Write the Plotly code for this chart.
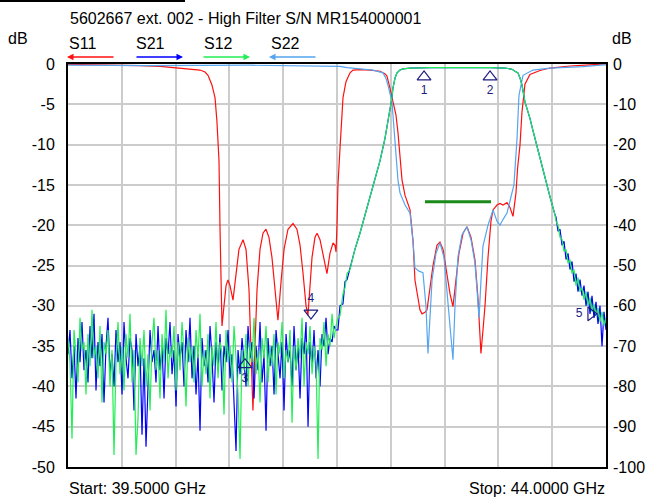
import numpy as np
import plotly.graph_objects as go

# ---------------- data ----------------
title_text = "5602667 ext. 002 - High Filter S/N MR154000001"
start_ghz = 39.5
stop_ghz = 44.0

# S11 (left axis, dB)
s11_freq = [39.500, 39.768, 40.019, 40.102, 40.270, 40.437, 40.604, 40.646, 40.671, 40.704,
            40.730, 40.746, 40.763, 40.771, 40.780, 40.788, 40.805, 40.822, 40.838, 40.855,
            40.880, 40.905, 40.930, 40.964, 40.989, 41.014, 41.031, 41.047, 41.064, 41.081,
            41.106, 41.131, 41.156, 41.181, 41.206, 41.231, 41.256, 41.282, 41.307, 41.340,
            41.382, 41.415, 41.441, 41.466, 41.491, 41.507, 41.524, 41.541, 41.566, 41.583,
            41.608, 41.633, 41.666, 41.691, 41.717, 41.733, 41.742, 41.750, 41.758, 41.775,
            41.783, 41.800, 41.825, 41.859, 41.884, 41.942, 42.026, 42.110, 42.151, 42.168,
            42.193, 42.218, 42.243, 42.260, 42.277, 42.294, 42.319, 42.344, 42.361, 42.386,
            42.402, 42.427, 42.444, 42.461, 42.486, 42.503, 42.528, 42.553, 42.586, 42.611,
            42.637, 42.670, 42.695, 42.720, 42.745, 42.770, 42.804, 42.837, 42.871, 42.904,
            42.929, 42.954, 42.971, 42.988, 43.013, 43.038, 43.055, 43.088, 43.113, 43.138,
            43.172, 43.197, 43.222, 43.247, 43.260, 43.281, 43.297, 43.322, 43.364, 43.448,
            43.532, 43.699, 43.866, 44.000]
s11_db = [-0.05, -0.1, -0.15, -0.2, -0.3, -0.5, -0.75, -1.0, -1.4, -2.6,
          -4.2, -7.2, -12, -20, -28, -32.5, -30, -27.5, -26.8, -27.5,
          -29.3, -26, -23, -21.8, -23, -28, -35, -43, -35, -28,
          -23, -21, -20.5, -21.5, -24, -28, -31.8, -27, -23, -20.5,
          -19.8, -20.5, -22.5, -26, -30, -31.2, -28, -24, -21.5, -21,
          -21.8, -23.5, -26, -23.5, -22.2, -22.5, -23.3, -20, -15, -10.5,
          -8.8, -4.2, -2.2, -1.1, -0.75, -0.7, -0.75, -0.9, -1.2, -1.5,
          -3, -4.7, -6.3, -8.5, -11, -14.4, -16.3, -17.5, -18.1, -22,
          -26.8, -29, -30.5, -31, -30.8, -30.5, -28, -25, -22.5, -22.1,
          -23, -25.9, -28.5, -30.1, -27, -23.5, -21, -20.2, -21.5, -24.3,
          -29, -35.9, -33, -30, -24, -19.5, -18.1, -17.5, -17.3, -17.5,
          -17.2, -17.8, -18.9, -16, -13, -10, -6, -2.5, -1.3, -0.8,
          -0.5, -0.25, -0.1, 0.0]

# S22 (left axis, dB)
s22_freq = [39.500, 40.186, 41.022, 41.441, 41.775, 41.834, 41.942, 42.051, 42.135, 42.160,
            42.176, 42.193, 42.210, 42.218, 42.235, 42.252, 42.260, 42.277, 42.319, 42.361,
            42.386, 42.402, 42.436, 42.469, 42.494, 42.511, 42.528, 42.545, 42.578, 42.611,
            42.645, 42.670, 42.695, 42.720, 42.737, 42.762, 42.795, 42.837, 42.871, 42.904,
            42.921, 42.938, 42.954, 42.971, 43.013, 43.055, 43.088, 43.113, 43.138, 43.172,
            43.205, 43.230, 43.256, 43.272, 43.306, 43.389, 43.532, 43.808, 43.975, 44.000]
s22_db = [-0.15, -0.2, -0.15, -0.2, -0.3, -0.45, -0.6, -0.75, -1.1, -1.8,
          -2.6, -3.5, -4.7, -6.3, -10, -13, -14.4, -16, -17.5, -18.5,
          -22, -25.3, -25.7, -25.9, -30, -35.9, -31, -26.8, -23.5, -22.2,
          -24, -28, -32, -36.7, -30, -23.9, -21.2, -20.2, -21.8, -24.7,
          -28, -31.5, -27, -22.6, -20, -18.1, -19.5, -20, -19.3, -18.5,
          -16.5, -15, -9.2, -3.9, -1.4, -0.75, -0.5, -0.33, -0.1, -0.1]

# S21 / S12 (right axis, dB): noise floor below the passband
noise_freq = np.linspace(39.5, 41.742, 135)
s21_noise = [-72, -66, -78, -70, -83, -68, -74, -64, -76, -71,
             -79, -65, -73, -62, -81, -69, -75, -67, -84, -70,
             -63, -77, -72, -80, -66, -74, -69, -82, -64, -73,
             -78, -68, -71, -86, -67, -75, -70, -92, -73, -95, -80,
             -66, -74, -71, -79, -65, -76, -70, -83, -68,
             -72, -64, -77, -71, -85, -67, -73, -69, -80, -66,
             -74, -63, -78, -70, -82, -72, -91, -68, -75, -71,
             -79, -65, -73, -84, -69, -76, -67, -81, -70, -74,
             -66, -78, -72, -85, -96, -71, -77, -68, -74, -80,
             -65, -73, -69, -83, -70, -76, -64, -79, -72, -91,
             -68, -75, -70, -82, -66, -73, -78, -69, -86, -67,
             -74, -71, -80, -65, -76, -70, -83, -68, -72, -64,
             -90, -69, -75, -66, -78, -71, -80, -67, -70, -63,
             -72, -68, -69, -65, -66]
s12_noise = [-68, -74, -93, -66, -72, -79, -63, -71, -69, -82,
             -67, -75, -61, -73, -70, -78, -65, -84, -69, -72,
             -66, -80, -71, -97, -74, -64, -77, -70, -81, -67,
             -73, -62, -79, -71, -97, -88, -68, -75, -66, -80,
             -72, -86, -69, -63, -76, -71, -83, -67, -74, -61,
             -78, -70, -73, -65, -81, -69, -76, -64, -72, -85,
             -68, -74, -70, -79, -66, -73, -62, -80, -71, -77,
             -67, -83, -70, -75, -64, -78, -69, -72, -87, -66,
             -74, -70, -79, -65, -73, -82, -98, -71, -76, -67,
             -80, -69, -74, -63, -77, -71, -84, -68, -73, -65,
             -79, -70, -75, -67, -82, -69, -72, -64, -78, -71,
             -74, -66, -89, -70, -76, -68, -73, -63, -80, -69,
             -72, -65, -77, -70, -74, -98, -68, -71, -64, -75,
             -67, -70, -62, -68, -65]

edge_freq = [41.758, 41.775, 41.800, 41.817, 41.834, 41.859]
s21_edge = [-66, -60, -59.5, -54, -53.5, -50.5]
s12_edge = [-63, -62.5, -57, -55.5, -52, -51]

body_freq = [41.900, 41.942, 41.984, 42.026, 42.068, 42.110, 42.151, 42.176, 42.193, 42.206,
             42.218, 42.235, 42.252, 42.277, 42.302, 42.361, 42.528, 42.695, 42.862, 43.030,
             43.155, 43.214, 43.239, 43.264, 43.281, 43.297, 43.322, 43.339, 43.364, 43.389,
             43.423, 43.448, 43.507, 43.532, 43.574]
body_db = [-46, -42, -37.5, -33, -28.5, -24, -18.5, -14.5, -12, -9,
           -6, -3.5, -2.2, -1.5, -1.2, -1.0, -0.9, -0.85, -0.8, -0.9,
           -1.0, -1.3, -1.8, -2.2, -3.5, -5.2, -9.4, -11, -13.5, -16.5,
           -20.5, -23.5, -30, -33, -37.5]

tail_freq = np.linspace(43.582, 44.0, 26)
s21_tail = [-38, -41.5, -41, -45, -44, -48.5, -47, -51, -49, -54,
            -52, -56.5, -53.5, -57.5, -55, -60, -56.5, -62, -57.5, -63,
            -59, -64.5, -60, -70, -61.5, -66]
s12_tail = [-39, -40, -43, -43.5, -46.5, -46, -49.5, -48.5, -52, -51,
            -55, -53, -56.5, -55.5, -58.5, -56.5, -60, -58, -61.5, -59.5,
            -62.5, -60.5, -64, -61.5, -65, -63]

# limit line (left axis)
limit_freq = [42.486, 43.038]
limit_db = [-17.1, -17.1]

# markers (right axis)
marker_freq = [42.478, 43.030, 40.980, 41.532, 43.874]
marker_db = [-3.2, -3.2, -74.6, -61.8, -62.0]
marker_labels = ["1", "2", "3", "4", "5"]

# tick labels
left_tickvals = [0, -5, -10, -15, -20, -25, -30, -35, -40, -45, -50]
left_ticktext = ["0", "-5", "-10", "-15", "-20", "-25", "-30", "-35", "-40", "-45", "-50"]
right_tickvals = [0, -10, -20, -30, -40, -50, -60, -70, -80, -90, -100]
right_ticktext = ["0", "-10", "-20", "-30", "-40", "-50", "-60", "-70", "-80", "-90", "-100"]

legend_names = ["S11", "S21", "S12", "S22"]

# ---------------- figure ----------------
C_S11 = "#ff1010"
C_S21 = "#0000ff"
C_S12 = "#22ee55"
C_S22 = "#55a5f0"
NAVY = "#1c1c80"
FONT = "Liberation Sans, Arial, sans-serif"

s21_f = list(noise_freq) + edge_freq + body_freq + list(tail_freq)
s21_v = s21_noise + s21_edge + body_db + s21_tail
s12_f = list(noise_freq) + edge_freq + body_freq + list(tail_freq)
s12_v = s12_noise + s12_edge + body_db + s12_tail

fig = go.Figure()
fig.add_trace(go.Scatter(x=s21_f, y=s21_v, mode="lines", yaxis="y2",
                         line=dict(color=C_S21, width=1.2), name="S21"))
fig.add_trace(go.Scatter(x=s12_f, y=s12_v, mode="lines", yaxis="y2",
                         line=dict(color=C_S12, width=1.2), name="S12"))
fig.add_trace(go.Scatter(x=s11_freq, y=s11_db, mode="lines",
                         line=dict(color=C_S11, width=1.2), name="S11"))
fig.add_trace(go.Scatter(x=s22_freq, y=s22_db, mode="lines",
                         line=dict(color=C_S22, width=1.2), name="S22"))
fig.add_trace(go.Scatter(x=limit_freq, y=limit_db, mode="lines",
                         line=dict(color="#1a8a1a", width=3), name="limit"))
fig.add_trace(go.Scatter(
    x=marker_freq, y=marker_db, mode="markers+text", yaxis="y2",
    text=marker_labels,
    textposition=["bottom center", "bottom center", "bottom center", "top center", "middle left"],
    textfont=dict(family=FONT, size=12, color=NAVY),
    marker=dict(symbol=["triangle-up-open", "triangle-up-open", "triangle-up-open",
                        "triangle-down-open", "triangle-right-open"],
                size=12, color=NAVY, line=dict(width=1.2, color=NAVY)),
    name="markers"))

fig.update_layout(
    width=645, height=497,
    margin=dict(l=68, r=39, t=64, b=30, autoexpand=False),
    paper_bgcolor="white", plot_bgcolor="white",
    showlegend=False,
    font=dict(family=FONT, size=16, color="black"),
    xaxis=dict(range=[start_ghz, stop_ghz], tick0=start_ghz, dtick=0.45,
               showticklabels=False, ticks="", showgrid=True, automargin=False,
               gridcolor="#cccccc", gridwidth=1.5, zeroline=False,
               showline=True, linecolor="black", linewidth=2, mirror=True),
    yaxis=dict(range=[-50, 0], tickvals=left_tickvals, ticktext=left_ticktext,
               showgrid=True, gridcolor="#cccccc", gridwidth=1.5, zeroline=False,
               ticks="", ticklabelstandoff=8, automargin=False,
               tickfont=dict(family=FONT, size=16, color="black"),
               showline=True, linecolor="black", linewidth=2, mirror=True),
    yaxis2=dict(range=[-100, 0], tickvals=right_tickvals, ticktext=right_ticktext,
                overlaying="y", side="right", showgrid=False, zeroline=False,
                ticks="", ticklabelstandoff=6, automargin=False,
                tickfont=dict(family=FONT, size=16, color="black")),
)

def px_x(p):
    return (p - 68) / 538.0

def px_y(p):
    return (467 - p) / 403.0

ann = []
ann.append(dict(text=title_text, x=px_x(68), y=px_y(19), xanchor="left", yanchor="middle"))
ann.append(dict(text="dB", x=px_x(18), y=px_y(38), xanchor="center", yanchor="middle"))
ann.append(dict(text="dB", x=px_x(622), y=px_y(38), xanchor="center", yanchor="middle"))
ann.append(dict(text="Start: 39.5000 GHz", x=px_x(67), y=px_y(488), xanchor="left", yanchor="middle"))
ann.append(dict(text="Stop: 44.0000 GHz", x=px_x(607), y=px_y(488), xanchor="right", yanchor="middle"))
for name, lx in zip(legend_names, [67, 134, 202, 269]):
    ann.append(dict(text=name, x=px_x(lx), y=px_y(44), xanchor="left", yanchor="middle"))
for a in ann:
    a.update(xref="paper", yref="paper", showarrow=False,
             font=dict(family=FONT, size=16, color="black"))

arrows = [(67, 48, C_S11), (183, -48, C_S21), (250, -48, C_S12), (269, 48, C_S22)]
for hx, off, col in arrows:
    ann.append(dict(text="", x=px_x(hx), y=px_y(57), xref="paper", yref="paper",
                    showarrow=True, ax=off, ay=0, arrowhead=2, arrowsize=1,
                    arrowwidth=1.3, arrowcolor=col, standoff=0, startstandoff=0))
fig.update_layout(annotations=ann)

fig.add_shape(type="line", xref="paper", yref="paper",
              x0=px_x(0), x1=px_x(185), y0=px_y(1), y1=px_y(1),
              line=dict(color="black", width=2))

fig.write_html("out.html", config={"displayModeBar": False},
               post_script="document.body.style.margin='0';document.body.style.overflow='hidden';")
